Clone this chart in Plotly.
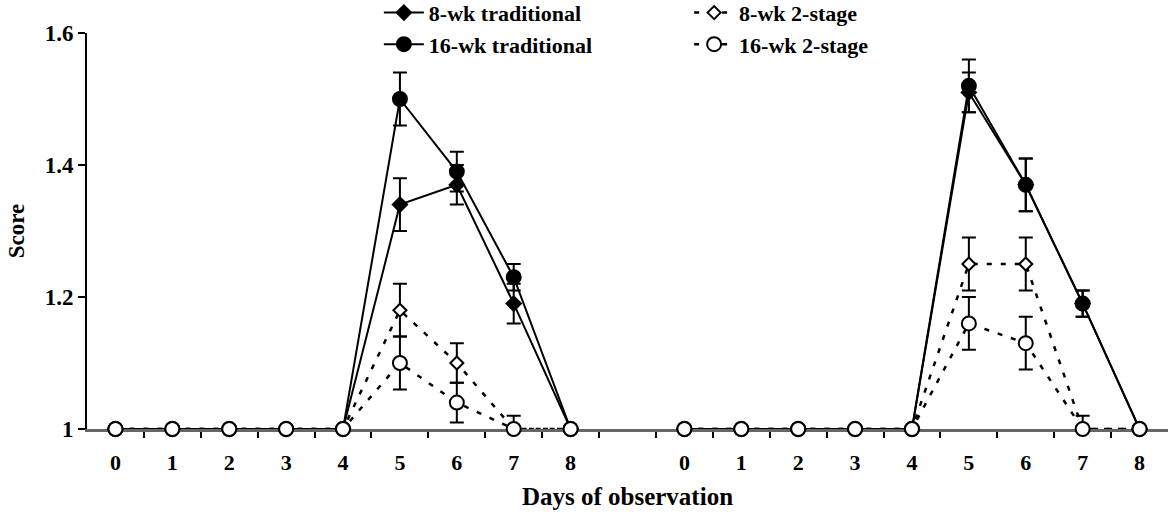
import plotly.graph_objects as go

# ---- data ----
days = [0, 1, 2, 3, 4, 5, 6, 7, 8]
groups = [0, 1]          # two observation periods shown side by side
group_gap = 10           # position offset of the second period

trad8_g1 = [1, 1, 1, 1, 1, 1.34, 1.37, 1.19, 1]
trad8_g1_err = [None, None, None, None, None, 0.04, 0.03, 0.03, None]
trad8_g2 = [1, 1, 1, 1, 1, 1.51, 1.37, 1.19, 1]
trad8_g2_err = [None, None, None, None, None, 0.03, 0.04, 0.02, None]

trad16_g1 = [1, 1, 1, 1, 1, 1.50, 1.39, 1.23, 1]
trad16_g1_err = [None, None, None, None, None, 0.04, 0.03, 0.02, None]
trad16_g2 = [1, 1, 1, 1, 1, 1.52, 1.37, 1.19, 1]
trad16_g2_err = [None, None, None, None, None, 0.04, 0.04, 0.02, None]

two8_g1 = [1, 1, 1, 1, 1, 1.18, 1.10, 1.00, 1]
two8_g1_err = [None, None, None, None, None, 0.04, 0.03, None, None]
two8_g2 = [1, 1, 1, 1, 1, 1.25, 1.25, 1.00, 1]
two8_g2_err = [None, None, None, None, None, 0.04, 0.04, None, None]

two16_g1 = [1, 1, 1, 1, 1, 1.10, 1.04, 1.00, 1]
two16_g1_err = [None, None, None, None, None, 0.04, 0.03, 0.02, None]
two16_g2 = [1, 1, 1, 1, 1, 1.16, 1.13, 1.00, 1]
two16_g2_err = [None, None, None, None, None, 0.04, 0.04, 0.02, None]

y_ticks = [1, 1.2, 1.4, 1.6]
y_ticktext = ["1", "1.2", "1.4", "1.6"]

# ---- build ----
FONT = "Liberation Serif"

x_g1 = [groups[0] * group_gap + d for d in days]
x_g2 = [groups[1] * group_gap + d for d in days]
x_all = x_g1 + [None] + x_g2


def join(a, b):
    return a + [None] + b


series = [
    dict(name="8-wk traditional", y=join(trad8_g1, trad8_g2), e=join(trad8_g1_err, trad8_g2_err),
         symbol="diamond", size=11, fill="black", dash="solid", leg="legend"),
    dict(name="16-wk traditional", y=join(trad16_g1, trad16_g2), e=join(trad16_g1_err, trad16_g2_err),
         symbol="circle", size=14, fill="black", dash="solid", leg="legend"),
    dict(name="8-wk 2-stage", y=join(two8_g1, two8_g2), e=join(two8_g1_err, two8_g2_err),
         symbol="diamond", size=10, fill="white", dash="5px,9px", leg="legend2"),
    dict(name="16-wk 2-stage", y=join(two16_g1, two16_g2), e=join(two16_g1_err, two16_g2_err),
         symbol="circle", size=14, fill="white", dash="5px,9px", leg="legend2"),
]

fig = go.Figure()
for s in series:
    fig.add_trace(go.Scatter(
        x=x_all, y=s["y"], name=s["name"], mode="lines+markers",
        connectgaps=False, cliponaxis=False, legend=s["leg"],
        line=dict(color="black", width=2 if s["dash"] == "solid" else 2.5, dash=s["dash"]),
        marker=dict(symbol=s["symbol"], size=s["size"], color=s["fill"],
                    line=dict(color="black", width=2)),
        error_y=dict(type="data", array=s["e"], visible=True, color="black",
                     thickness=2, width=7),
    ))

tick_x = x_g1 + x_g2
tick_text = [str(d) for d in days] * 2
minor_x = [v + 0.5 for v in x_g1] + [x_g1[-1] + 1.5] + [v + 0.5 for v in x_g2[:-1]]

legend_common = dict(orientation="v", xanchor="left", y=1.104, yanchor="top",
                     font=dict(family=FONT, size=22, color="black", weight="bold"),
                     bgcolor="rgba(0,0,0,0)", itemwidth=40, tracegroupgap=0)

fig.update_layout(
    width=1168, height=515,
    margin=dict(l=87, r=0, t=33, b=86, autoexpand=False),
    paper_bgcolor="white", plot_bgcolor="white",
    font=dict(family=FONT, color="black", size=22),
    showlegend=True,
    legend=dict(x=0.27, **legend_common),
    legend2=dict(x=0.557, **legend_common),
    xaxis=dict(range=[-0.5, 18.5], tickmode="array", tickvals=tick_x, ticktext=tick_text,
               ticks="", ticklabelstandoff=12, showgrid=False, zeroline=False,
               showline=True, linecolor="#666666", linewidth=3, layer="below traces",
               tickfont=dict(family=FONT, size=22, weight="bold"),
               minor=dict(tickmode="array", tickvals=minor_x, ticks="outside", ticklen=6,
                          tickwidth=1.5, tickcolor="black", showgrid=False),
               title=dict(text="Days of observation", standoff=14,
                          font=dict(family=FONT, size=25, weight="bold"))),
    yaxis=dict(range=[1, 1.6], tickmode="array", tickvals=y_ticks, ticktext=y_ticktext,
               ticks="outside", ticklen=7, tickwidth=2, tickcolor="black",
               showgrid=False, zeroline=False, showline=True, linecolor="black", linewidth=2,
               layer="below traces",
               tickfont=dict(family=FONT, size=23, weight="bold"),
               title=dict(text="Score", standoff=14,
                          font=dict(family=FONT, size=23, weight="bold"))),
)

fig.write_html("out.html")
